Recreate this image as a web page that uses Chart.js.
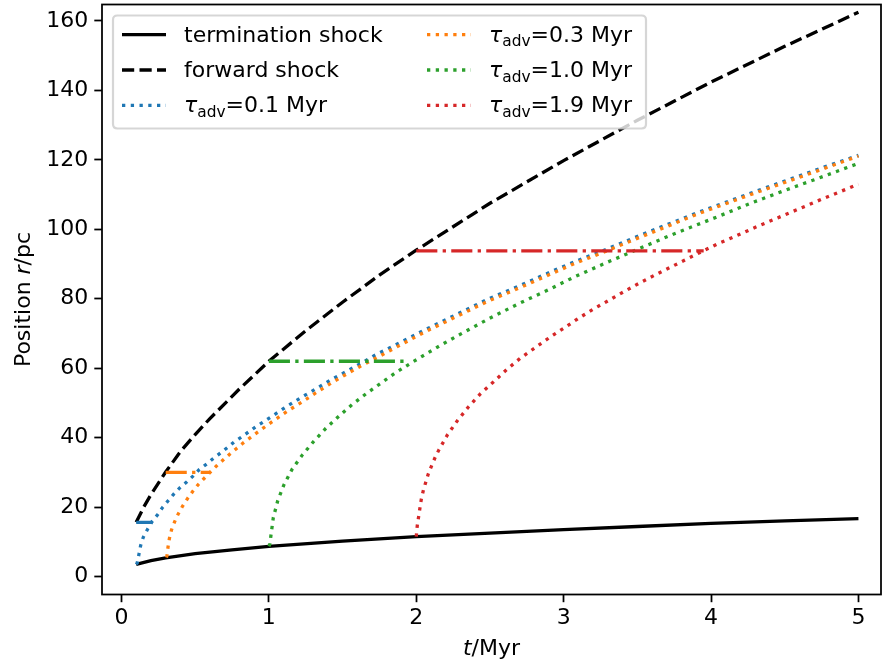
<!DOCTYPE html>
<html>
<head>
<meta charset="utf-8">
<script src="https://cdn.jsdelivr.net/npm/chart.js@4.4.1/dist/chart.umd.min.js"></script>
<style>
  html, body { margin: 0; padding: 0; background: #fff; }
  canvas { display: block; }
</style>
</head>
<body>
<canvas id="shock-chart" width="883" height="664"></canvas>
<script>
// ── Data (t in Myr, r in pc) ─────────────────────────────────────────────────

const xTicks = [0, 1, 2, 3, 4, 5];
const yTicks = [0, 20, 40, 60, 80, 100, 120, 140, 160];

const termT = [0.1, 0.2, 0.3, 0.5, 0.75, 1.0, 1.5, 2.0, 2.5, 3.0, 3.5, 4.0, 4.5, 5.0];
const termR = [3.5, 4.6, 5.4, 6.6, 7.7, 8.7, 10.2, 11.5, 12.5, 13.5, 14.4, 15.3, 16.0, 16.7];

const fwdT = [0.1, 0.15, 0.2, 0.3, 0.4, 0.5, 0.6, 0.8, 1.0, 1.25, 1.5, 1.75, 2.0, 2.5, 3.0, 3.5, 4.0, 4.5, 5.0];
const fwdR = [15.6, 19.9, 23.6, 30.1, 36.0, 40.9, 45.5, 54.0, 62.0, 70.8, 79.0, 86.8, 94.0, 107.5, 119.8, 131.4, 142.4, 152.7, 162.5];

// tau_adv = 0.1 Myr
const blueT = [0.1, 0.107, 0.119, 0.13, 0.148, 0.178, 0.209, 0.245, 0.279, 0.318, 0.356, 0.397, 0.442, 0.487,
  0.528, 0.578, 0.623, 0.673, 0.718, 0.763, 0.815, 0.91, 1.012, 1.111, 1.213, 1.317, 1.419, 1.523, 1.625,
  1.731, 1.84, 2.052, 2.269, 2.487, 2.704, 2.921, 3.088, 3.253, 3.475, 3.699, 3.92, 4.088, 4.314, 4.54, 4.766, 5.0];
const blueR = [3.5, 3.9, 6.5, 8.9, 11.3, 13.7, 15.9, 17.8, 19.9, 21.9, 23.8, 25.6, 27.2, 29.0,
  30.8, 32.4, 34.0, 35.6, 37.1, 38.7, 40.2, 43.1, 45.9, 48.7, 51.4, 54.0, 56.6, 59.0, 61.4,
  64.0, 66.3, 70.9, 75.4, 79.9, 83.8, 87.9, 90.9, 93.6, 97.5, 101.3, 105.0, 107.6, 111.1, 114.5, 117.9, 121.3];

// tau_adv = 0.3 Myr
const orangeT = [0.305, 0.309, 0.316, 0.325, 0.34, 0.361, 0.386, 0.415, 0.449, 0.483, 0.521, 0.562, 0.603,
  0.646, 0.691, 0.736, 0.781, 0.827, 0.924, 1.023, 1.121, 1.222, 1.322, 1.419, 1.523, 1.627, 1.736, 1.84,
  1.946, 2.052, 2.269, 2.487, 2.704, 2.921, 3.088, 3.253, 3.475, 3.699, 3.92, 4.088, 4.314, 4.54, 4.766, 5.0];
const orangeR = [5.5, 6.0, 8.5, 10.9, 13.5, 15.8, 18.1, 20.3, 22.5, 24.5, 26.5, 28.3, 30.1,
  31.9, 33.6, 35.3, 36.9, 38.5, 41.6, 44.6, 47.5, 50.2, 53.0, 55.6, 58.2, 60.7, 63.1, 65.5,
  67.9, 70.3, 74.8, 79.3, 83.2, 87.3, 90.4, 93.1, 97.0, 100.8, 104.6, 107.2, 110.7, 114.1, 117.5, 121.1];

// tau_adv = 1.0 Myr
const greenT = [1.0, 1.007, 1.014, 1.03, 1.06, 1.102, 1.159, 1.229, 1.306, 1.387, 1.473, 1.564, 1.659, 1.754,
  1.853, 1.957, 2.059, 2.161, 2.269, 2.477, 2.69, 2.907, 3.068, 3.285, 3.504, 3.726, 3.947, 4.06, 4.28,
  4.506, 4.728, 5.0];
const greenR = [8.7, 9.3, 11.8, 16.9, 21.8, 26.4, 31.0, 35.1, 39.0, 42.7, 46.1, 49.5, 52.6, 55.5,
  58.5, 61.3, 63.9, 66.5, 69.1, 73.9, 78.5, 82.8, 86.2, 90.3, 94.3, 98.3, 102.0, 103.9, 107.7,
  111.3, 114.7, 119.0];

// tau_adv = 1.9 Myr
const redT = [2.0, 2.007, 2.016, 2.025, 2.034, 2.048, 2.064, 2.082, 2.104, 2.127, 2.154, 2.213, 2.281, 2.355,
  2.437, 2.525, 2.613, 2.704, 2.803, 2.903, 3.0, 3.102, 3.201, 3.305, 3.411, 3.513, 3.622, 3.726, 3.834,
  3.938, 4.049, 4.106, 4.323, 4.542, 4.764, 5.0];
const redR = [11.5, 14.7, 17.2, 19.7, 22.2, 24.8, 27.1, 29.6, 31.9, 34.2, 36.5, 40.9, 45.0, 48.9,
  52.7, 56.1, 59.6, 62.8, 65.8, 68.8, 71.5, 74.4, 77.0, 79.5, 82.1, 84.5, 86.9, 89.1, 91.4,
  93.6, 95.9, 96.9, 101.0, 104.9, 108.9, 113.0];

// horizontal advection markers (start/end time, radius)
const blueHoldT = [0.1, 0.209];   const blueHoldR = [15.6, 15.6];
const orangeHoldT = [0.3, 0.6];   const orangeHoldR = [30.0, 30.0];
const greenHoldT = [1.0, 1.923];  const greenHoldR = [62.0, 62.0];
const redHoldT = [2.0, 3.95];     const redHoldR = [93.8, 93.8];

const shockLabels = ['termination shock', 'forward shock'];
const tauLabels = ['0.1', '0.3', '1.0', '1.9'];

// ── Styles ────────────────────────────────────────────────────────────────────

const FONT = '"DejaVu Sans", "Liberation Sans", sans-serif';
const LW = 3.3;
const SOLID = [];
const DASHED = [12.2, 5.3];
const DOTTED = [3.3, 5.45];
const DASHDOT = [21.1, 5.3, 3.3, 5.3];

const BLUE = '#1f77b4', ORANGE = '#ff7f0e', GREEN = '#2ca02c', RED = '#d62728';

function pts(t, r) { return t.map((x, i) => ({ x, y: r[i] })); }

function series(t, r, color, dash) {
  return {
    data: pts(t, r),
    borderColor: color,
    backgroundColor: color,
    borderWidth: LW,
    borderDash: dash,
    borderCapStyle: 'butt',
    pointRadius: 0,
    tension: 0,
    fill: false,
  };
}

const datasets = [
  series(termT, termR, '#000', SOLID),
  series(fwdT, fwdR, '#000', DASHED),
  series(blueT, blueR, BLUE, DOTTED),
  series(blueHoldT, blueHoldR, BLUE, DASHDOT),
  series(orangeT, orangeR, ORANGE, DOTTED),
  series(orangeHoldT, orangeHoldR, ORANGE, DASHDOT),
  series(greenT, greenR, GREEN, DOTTED),
  series(greenHoldT, greenHoldR, GREEN, DASHDOT),
  series(redT, redR, RED, DOTTED),
  series(redHoldT, redHoldR, RED, DASHDOT),
];
// later lines on top, as in the original plot
datasets.forEach((d, i) => { d.order = datasets.length - i; });

// ── Legend / frame / axis titles ─────────────────────────────────────────────

const legendEntries = [
  { text: shockLabels[0], color: '#000', dash: SOLID, col: 0, row: 0 },
  { text: shockLabels[1], color: '#000', dash: DASHED, col: 0, row: 1 },
  { tau: tauLabels[0], color: BLUE, dash: DOTTED, col: 0, row: 2 },
  { tau: tauLabels[1], color: ORANGE, dash: DOTTED, col: 1, row: 0 },
  { tau: tauLabels[2], color: GREEN, dash: DOTTED, col: 1, row: 1 },
  { tau: tauLabels[3], color: RED, dash: DOTTED, col: 1, row: 2 },
];

function roundRect(ctx, x, y, w, h, r) {
  ctx.beginPath();
  ctx.moveTo(x + r, y);
  ctx.lineTo(x + w - r, y);
  ctx.quadraticCurveTo(x + w, y, x + w, y + r);
  ctx.lineTo(x + w, y + h - r);
  ctx.quadraticCurveTo(x + w, y + h, x + w - r, y + h);
  ctx.lineTo(x + r, y + h);
  ctx.quadraticCurveTo(x, y + h, x, y + h - r);
  ctx.lineTo(x, y + r);
  ctx.quadraticCurveTo(x, y, x + r, y);
  ctx.closePath();
}

function drawTauLabel(ctx, x, y, tau) {
  ctx.font = 'italic 22px ' + FONT;
  ctx.fillText('τ', x, y);
  x += ctx.measureText('τ').width;
  ctx.font = '15.4px ' + FONT;
  ctx.fillText('adv', x, y + 4.6);
  x += ctx.measureText('adv').width;
  ctx.font = '22px ' + FONT;
  ctx.fillText('=' + tau + ' Myr', x, y);
}

// draws pieces [text, italic] centred at 0,0 on the current transform
function drawMixed(ctx, pieces) {
  const widths = pieces.map(([s, it]) => {
    ctx.font = (it ? 'italic ' : '') + '22px ' + FONT;
    return ctx.measureText(s).width;
  });
  let x = -widths.reduce((a, b) => a + b, 0) / 2;
  pieces.forEach(([s, it], i) => {
    ctx.font = (it ? 'italic ' : '') + '22px ' + FONT;
    ctx.fillText(s, x, 0);
    x += widths[i];
  });
}

const decorPlugin = {
  id: 'decor',
  afterDatasetsDraw(chart) {
    const { ctx, chartArea: a } = chart;
    ctx.save();
    // axes frame
    ctx.strokeStyle = '#000';
    ctx.lineWidth = 1.76;
    ctx.setLineDash([]);
    ctx.strokeRect(a.left, a.top, a.right - a.left, a.bottom - a.top);

    // legend box
    const bx = a.left + 11, by = a.top + 11, bw = 533, bh = 113;
    roundRect(ctx, bx, by, bw, bh, 4.4);
    ctx.fillStyle = 'rgba(255,255,255,0.8)';
    ctx.fill();
    ctx.strokeStyle = 'rgba(204,204,204,0.8)';
    ctx.lineWidth = 2.2;
    ctx.stroke();

    const handleX = [bx + 9, bx + 314];
    const textX = [bx + 71, bx + 376];
    const baseY = [41.7, 77.0, 112.3];
    ctx.textBaseline = 'alphabetic';
    ctx.textAlign = 'left';
    legendEntries.forEach(e => {
      const hy = baseY[e.row] - 7;
      ctx.beginPath();
      ctx.moveTo(handleX[e.col], hy);
      ctx.lineTo(handleX[e.col] + 44, hy);
      ctx.strokeStyle = e.color;
      ctx.lineWidth = LW;
      ctx.lineCap = 'butt';
      ctx.setLineDash(e.dash);
      ctx.stroke();
      ctx.setLineDash([]);
      ctx.fillStyle = '#000';
      if (e.tau) drawTauLabel(ctx, textX[e.col], baseY[e.row], e.tau);
      else {
        ctx.font = '22px ' + FONT;
        ctx.fillText(e.text, textX[e.col], baseY[e.row]);
      }
    });

    // axis titles
    ctx.fillStyle = '#000';
    ctx.textBaseline = 'alphabetic';
    ctx.save();
    ctx.translate(29.5, (a.top + a.bottom) / 2);
    ctx.rotate(-Math.PI / 2);
    drawMixed(ctx, [['Position ', false], ['r', true], ['/pc', false]]);
    ctx.restore();
    ctx.save();
    ctx.translate((a.left + a.right) / 2, 655);
    drawMixed(ctx, [['t', true], ['/Myr', false]]);
    ctx.restore();
    ctx.restore();
  }
};

// ── Chart ────────────────────────────────────────────────────────────────────

const tickGrid = {
  display: true,
  drawOnChartArea: false,
  drawTicks: true,
  tickLength: 7.7,
  tickWidth: 1.76,
  tickColor: '#000',
};

function noPad(s) {
  s.paddingTop = 0; s.paddingBottom = 0; s.paddingLeft = 0; s.paddingRight = 0;
}

new Chart(document.getElementById('shock-chart').getContext('2d'), {
  type: 'line',
  data: { datasets },
  plugins: [decorPlugin],
  options: {
    responsive: false,
    animation: false,
    devicePixelRatio: 1,
    layout: { padding: { top: 4.5, right: 2, left: 0, bottom: 0 } },
    plugins: { legend: { display: false }, tooltip: { enabled: false } },
    scales: {
      x: {
        type: 'linear',
        min: -0.132,
        max: 5.153,
        grid: tickGrid,
        border: { display: false },
        ticks: { color: '#000', font: { family: FONT, size: 22 }, padding: 3, maxRotation: 0 },
        afterBuildTicks: s => { s.ticks = xTicks.map(v => ({ value: v })); },
        afterFit: s => { s.height = 69.5; noPad(s); },
      },
      y: {
        type: 'linear',
        min: -5.18,
        max: 164.75,
        grid: tickGrid,
        border: { display: false },
        ticks: { color: '#000', font: { family: FONT, size: 22 }, padding: 6 },
        afterBuildTicks: s => { s.ticks = yTicks.map(v => ({ value: v })); },
        afterFit: s => { s.width = 102; noPad(s); },
      },
    },
  },
});
</script>
</body>
</html>
